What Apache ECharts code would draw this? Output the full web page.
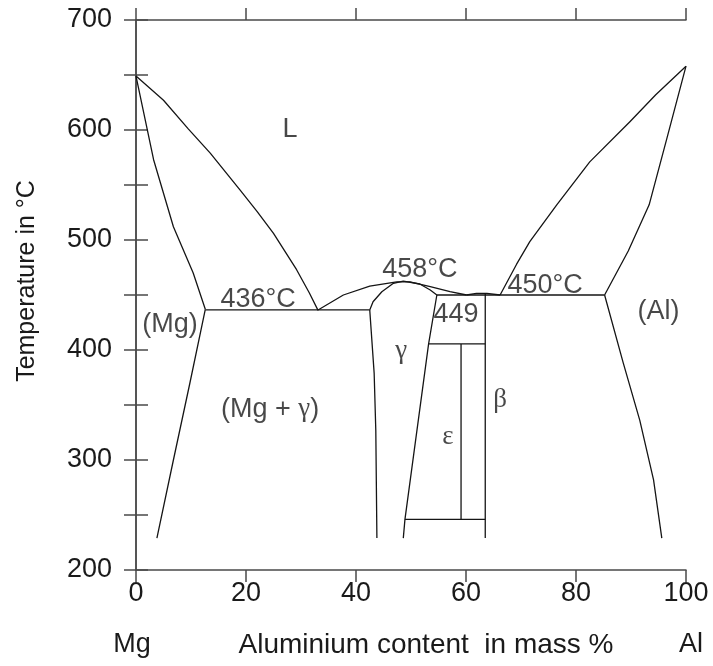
<!DOCTYPE html>
<html><head><meta charset="utf-8">
<script src="https://cdn.jsdelivr.net/npm/echarts@6/dist/echarts.min.js"></script>
<style>html,body{margin:0;padding:0;background:#fff}#c{width:713px;height:666px}</style>
</head><body><div id="c"></div>
<script>
// axis ranges / ticks
const xRange = [0, 100];
const xStep = 20;
const yRange = [200, 700];
const yStep = 50;

// phase boundaries: [Al mass %, temperature °C]
const liquidusMg = [[0,649],[5.0,627],[9.5,601],[13.5,579],[18.9,545.5],[22,526],[25.0,506],[29.2,473],[31.5,452],[33.1,436]];
const solidusMg = [[0,649],[3.2,573],[6.8,512],[10.4,470],[12.6,437]];
const solvusMg = [[12.6,437],[9.8,370],[6.8,300],[3.8,229]];
const eutectic436 = [[12.6,436.4],[42.5,436.4]];
const liquidusGamma = [[33.1,436.4],[37.7,450],[42.5,458],[47.4,462],[49.8,462],[53.5,457.6],[57.1,453],[60.1,450]];
const liquidusBeta = [[60.1,450],[61.9,451.5],[63.8,451.5],[66.2,450]];
const solidusGamma = [[42.5,436.4],[43.1,443.9],[44.7,453],[46.8,460.6],[48.6,462.7],[51.6,460],[53.5,454.5],[54.7,450]];
const gammaLeft = [[42.5,436.4],[43.3,379],[43.6,327],[43.8,229]];
const gammaRight = [[54.7,450],[53.2,405.5],[48.9,246],[48.6,229]];
const eutectic450 = [[54.7,450],[85.2,450]];
const epsilonTop = [[53.2,405.5],[63.5,405.5]];
const epsilonBottom = [[48.9,246],[63.5,246]];
const epsilonMid = [[59.1,405.5],[59.1,246]];
const betaLeft = [[63.5,451.6],[63.5,229]];
const liquidusAl = [[100,658],[94.5,632],[89.8,607.5],[82.5,571],[76.5,532],[71.6,498.5],[69.2,478],[66.2,450]];
const solidusAl = [[100,658],[96.5,592],[93.3,532],[89.5,490],[85.2,450]];
const solvusAl = [[85.2,450],[88.6,388],[91.6,336],[94.1,282],[95.6,229]];

// region / temperature annotations: [x, T, text]
const annotations = [
  [28, 600, 'L'],
  [22.2, 446, '436°C'],
  [6.2, 423.5, '(Mg)'],
  [51.6, 473.5, '458°C'],
  [58.2, 432.5, '449'],
  [74.4, 458.5, '450°C'],
  [95, 435, '(Al)'],
  [24.4, 346, '(Mg + {g|γ})'],
  [48.2, 399, '{g|γ}'],
  [66.2, 355, '{g|β}'],
  [56.7, 321, '{g|ε}']
];

const SANS = '"Liberation Sans", Arial, Helvetica, sans-serif';
const SERIF = '"Liberation Serif", "DejaVu Serif", serif';
const FS = 27;
const axisColor = '#4a4a4a';
const lineColor = '#151515';

const curves = [
  liquidusMg, solidusMg, solvusMg, eutectic436,
  liquidusGamma, liquidusBeta, solidusGamma,
  gammaLeft, gammaRight, eutectic450,
  epsilonTop, epsilonBottom, epsilonMid, betaLeft,
  liquidusAl, solidusAl, solvusAl
];

const series = curves.map(d => ({
  type: 'line', data: d, xAxisIndex: 0, yAxisIndex: 0,
  showSymbol: false, symbol: 'none', smooth: false,
  lineStyle: {color: lineColor, width: 1.3, join: 'round'}, silent: true, animation: false, z: 3
}));

series.push({
  type: 'scatter', xAxisIndex: 0, yAxisIndex: 0, symbolSize: 0, silent: true, animation: false,
  data: annotations.map(a => ({value: [a[0], a[1]], label: {formatter: a[2]}})),
  label: {
    show: true, position: 'inside', color: '#1a1a1a', fontFamily: SANS, fontSize: FS,
    rich: {g: {fontFamily: SERIF, fontSize: FS, color: '#1a1a1a'}}
  }
});

const tickStyle = {show: true, inside: false, length: 12, lineStyle: {color: axisColor, width: 1.5}};
const lineStyleAx = {show: true, lineStyle: {color: axisColor, width: 1.5}};

const chart = echarts.init(document.getElementById('c'), null, {renderer: 'canvas'});
chart.setOption({
  backgroundColor: '#fff',
  animation: false,
  grid: {left: 136, right: 27, top: 20, bottom: 96},
  xAxis: [
    {type: 'value', position: 'bottom', min: xRange[0], max: xRange[1], interval: xStep,
     axisLine: lineStyleAx, axisTick: tickStyle, splitLine: {show: false},
     axisLabel: {margin: 10, color: '#1a1a1a', fontFamily: SANS, fontSize: FS}},
    {type: 'value', position: 'top', min: xRange[0], max: xRange[1], interval: xStep,
     axisLine: lineStyleAx, axisTick: tickStyle, splitLine: {show: false}, axisLabel: {show: false}}
  ],
  yAxis: [
    {type: 'value', position: 'left', min: yRange[0], max: yRange[1], interval: yStep,
     axisLine: lineStyleAx, axisTick: tickStyle, splitLine: {show: false},
     axisLabel: {margin: 24, color: '#1a1a1a', fontFamily: SANS, fontSize: FS,
       formatter: v => (v % 100 === 0 ? String(v) : '')}},
    {type: 'value', position: 'right', min: yRange[0], max: yRange[1], interval: yStep,
     axisLine: lineStyleAx, axisTick: tickStyle, splitLine: {show: false}, axisLabel: {show: false}}
  ],
  graphic: [
    {type: 'text', x: 27, y: 281, rotation: Math.PI / 2,
     style: {text: 'Temperature in °C', font: '25px ' + SANS, fill: '#1a1a1a', align: 'center', verticalAlign: 'middle'}},
    {type: 'text', x: 132, y: 645,
     style: {text: 'Mg', font: FS + 'px ' + SANS, fill: '#1a1a1a', align: 'center', verticalAlign: 'middle'}},
    {type: 'text', x: 426, y: 645,
     style: {text: 'Aluminium content  in mass %', font: '28px ' + SANS, fill: '#1a1a1a', align: 'center', verticalAlign: 'middle'}},
    {type: 'text', x: 691, y: 645,
     style: {text: 'Al', font: FS + 'px ' + SANS, fill: '#1a1a1a', align: 'center', verticalAlign: 'middle'}}
  ],
  series: series
});
</script>
</body></html>
